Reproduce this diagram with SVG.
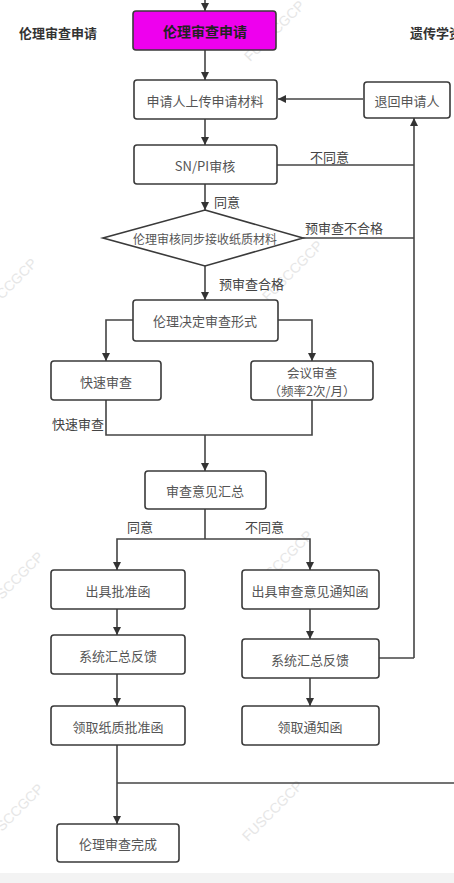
<svg xmlns="http://www.w3.org/2000/svg" width="454" height="883" viewBox="0 0 454 883">
<defs>
<marker id="ah" viewBox="0 0 10 10" refX="10" refY="5" markerWidth="8" markerHeight="8" markerUnits="userSpaceOnUse" orient="auto">
<path d="M0,0 L10,5 L0,10 z" fill="#333"/>
</marker>
<style>
.box{fill:#fff;stroke:#3a3a3a;stroke-width:1.6}
.t{font-family:"Noto Sans CJK SC","Noto Sans",sans-serif;font-size:13px;fill:#555;text-anchor:middle;dominant-baseline:central}
.lb{font-family:"Noto Sans CJK SC","Noto Sans",sans-serif;font-size:13px;fill:#444}
.hd{font-family:"Noto Sans CJK SC","Noto Sans",sans-serif;font-size:13px;font-weight:bold;fill:#333}
.ln{fill:none;stroke:#444;stroke-width:1.6}
.ar{fill:none;stroke:#444;stroke-width:1.6;marker-end:url(#ah)}
.wm{font-family:"Liberation Sans",sans-serif;font-size:14px;fill:#e6e6e6}
</style>
</defs>
<rect x="0" y="0" width="454" height="883" fill="#fff"/>
<rect x="0" y="873" width="454" height="10" fill="#f3f3f3"/>
<g id="watermarks">
<text class="wm" transform="translate(250,62) rotate(-45)">FUSCCGCP</text>
<text class="wm" transform="translate(268,302) rotate(-45)">FUSCCGCP</text>
<text class="wm" transform="translate(258,592) rotate(-45)">FUSCCGCP</text>
<text class="wm" transform="translate(248,842) rotate(-45)">FUSCCGCP</text>
<text class="wm" transform="translate(2,300) rotate(-45)">CCGCP</text>
<text class="wm" transform="translate(2,600) rotate(-45)">SCCGCP</text>
<text class="wm" transform="translate(2,832) rotate(-45)">SCCGCP</text>
</g>
<g id="headers">
<text class="hd" x="19" y="38">伦理审查申请</text>
<text class="hd" x="410" y="38">遗传学资</text>
</g>
<g id="connectors">
<line class="ar" x1="205" y1="0" x2="205" y2="11"/>
<line class="ar" x1="205" y1="50" x2="205" y2="80"/>
<line class="ar" x1="363" y1="99" x2="278" y2="99"/>
<line class="ar" x1="414" y1="658" x2="414" y2="118"/>
<line class="ln" x1="379" y1="658" x2="414" y2="658"/>
<line class="ar" x1="205" y1="119" x2="205" y2="145"/>
<line class="ln" x1="277" y1="165" x2="414" y2="165"/>
<line class="ar" x1="205" y1="184" x2="205" y2="210"/>
<line class="ln" x1="303" y1="238" x2="414" y2="238"/>
<line class="ar" x1="205" y1="266" x2="205" y2="300"/>
<polyline class="ar" points="133,320 106,320 106,361"/>
<polyline class="ar" points="278,320 312,320 312,361"/>
<polyline class="ln" points="106,400 106,435 312,435 312,400"/>
<line class="ar" x1="205" y1="435" x2="205" y2="471"/>
<line class="ln" x1="205" y1="509" x2="205" y2="539"/>
<polyline class="ar" points="205,539 117,539 117,570"/>
<polyline class="ar" points="205,539 310,539 310,570"/>
<line class="ar" x1="117" y1="609" x2="117" y2="635"/>
<line class="ar" x1="117" y1="674" x2="117" y2="706"/>
<line class="ar" x1="310" y1="609" x2="310" y2="639"/>
<line class="ar" x1="310" y1="678" x2="310" y2="706"/>
<line class="ar" x1="117" y1="745" x2="117" y2="824"/>
<line class="ln" x1="117" y1="783" x2="454" y2="783"/>
<text class="lb" x="310" y="162">不同意</text>
<text class="lb" x="214" y="207">同意</text>
<text class="lb" x="305" y="233">预审查不合格</text>
<text class="lb" x="219" y="289">预审查合格</text>
<text class="lb" x="52" y="429">快速审查</text>
<text class="lb" x="127" y="532">同意</text>
<text class="lb" x="245" y="532">不同意</text>
</g>
<g id="n-apply">
<rect x="133" y="11" width="143" height="39" rx="3" fill="#ee00ee" stroke="#3a3a3a" stroke-width="1.6"/>
<text class="t" x="205" y="31" style="font-size:14px;font-weight:bold;fill:#222">伦理审查申请</text>
</g>
<g id="n-upload">
<rect class="box" x="134" y="80" width="143" height="39" rx="3"/>
<text class="t" x="205" y="100">申请人上传申请材料</text>
</g>
<g id="n-return">
<rect class="box" x="364" y="82" width="86" height="36" rx="3"/>
<text class="t" x="407" y="100">退回申请人</text>
</g>
<g id="n-snpi">
<rect class="box" x="134" y="145" width="143" height="39" rx="3"/>
<text class="t" x="205" y="165">SN/PI审核</text>
</g>
<g id="n-diamond">
<polygon class="box" points="205,210 303,238 205,266 103,238"/>
<text class="t" x="205" y="238" style="font-size:12px">伦理审核同步接收纸质材料</text>
</g>
<g id="n-decide">
<rect class="box" x="133" y="300" width="145" height="41" rx="3"/>
<text class="t" x="205" y="320">伦理决定审查形式</text>
</g>
<g id="n-fast">
<rect class="box" x="51" y="361" width="110" height="39" rx="3"/>
<text class="t" x="106" y="381">快速审查</text>
</g>
<g id="n-meeting">
<rect class="box" x="251" y="361" width="122" height="39" rx="3"/>
<text class="t" x="312" y="372" style="font-size:12.5px">会议审查</text>
<text class="t" x="312" y="390" style="font-size:12.5px">（频率2次/月）</text>
</g>
<g id="n-summary">
<rect class="box" x="145" y="471" width="121" height="38" rx="3"/>
<text class="t" x="205" y="490">审查意见汇总</text>
</g>
<g id="n-approve">
<rect class="box" x="51" y="570" width="134" height="39" rx="3"/>
<text class="t" x="118" y="590">出具批准函</text>
</g>
<g id="n-notice">
<rect class="box" x="242" y="570" width="137" height="39" rx="3"/>
<text class="t" x="310" y="590">出具审查意见通知函</text>
</g>
<g id="n-feedback-l">
<rect class="box" x="51" y="635" width="134" height="39" rx="3"/>
<text class="t" x="118" y="655">系统汇总反馈</text>
</g>
<g id="n-feedback-r">
<rect class="box" x="242" y="639" width="137" height="39" rx="3"/>
<text class="t" x="310" y="659">系统汇总反馈</text>
</g>
<g id="n-get-approve">
<rect class="box" x="51" y="706" width="134" height="39" rx="3"/>
<text class="t" x="118" y="726">领取纸质批准函</text>
</g>
<g id="n-get-notice">
<rect class="box" x="242" y="706" width="137" height="39" rx="3"/>
<text class="t" x="310" y="726">领取通知函</text>
</g>
<g id="n-done">
<rect class="box" x="57" y="824" width="122" height="38" rx="3"/>
<text class="t" x="118" y="843">伦理审查完成</text>
</g>
</svg>
